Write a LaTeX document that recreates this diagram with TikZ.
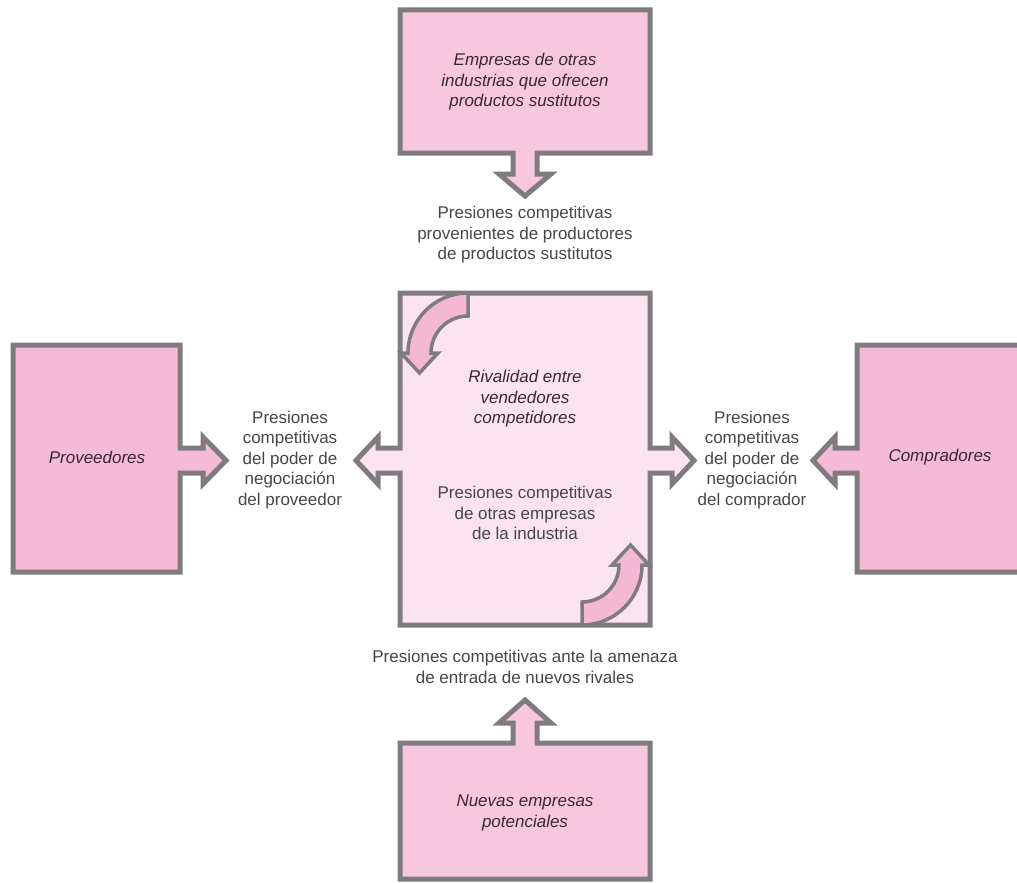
\documentclass[tikz,border=0pt]{standalone}
\usepackage{fontspec}
\setmainfont{Liberation Sans}
\definecolor{edgegray}{HTML}{7F7B7E}
\definecolor{boxpink}{HTML}{F5BAD6}
\definecolor{toppink}{HTML}{F7C8DD}
\definecolor{lightpink}{HTML}{FBE4EF}
\definecolor{curvepink}{HTML}{F4B8D3}
\definecolor{txtgray}{HTML}{464646}
\definecolor{txtdark}{HTML}{3A2833}
\begin{document}
\begin{tikzpicture}[x=1pt,y=-1pt,
  outline/.style={draw=edgegray, line width=5pt, line join=miter},
  curveline/.style={draw=edgegray, line width=3.5pt, line join=miter, fill=curvepink},
  plaintxt/.style={align=center, text=txtgray, font=\fontsize{17}{20.5}\selectfont, inner sep=0pt},
  itxt/.style={align=center, text=txtdark, font=\fontsize{17}{20.5}\selectfont\itshape, inner sep=0pt}]
\path[use as bounding box] (0,0) rectangle (1017,883);
\clip (0,0) rectangle (1017,883);

% top box with downward arrow
\path[outline, fill=toppink] (400,10) -- (650,10) -- (650,153) -- (537,153) -- (537,174) -- (551,174)
  -- (525,196) -- (499,174) -- (513,174) -- (513,153) -- (400,153) -- cycle;

% central box with side arrows
\path[outline, fill=lightpink] (400,293) -- (650,293) -- (650,448) -- (672,448) -- (672,437)
  -- (694,460.5) -- (672,484) -- (672,473) -- (650,473) -- (650,625) -- (400,625) -- (400,473)
  -- (378,473) -- (378,484) -- (356,460.5) -- (378,437) -- (378,448) -- (400,448) -- cycle;

% left box
\path[outline, fill=boxpink] (13,345) -- (180,345) -- (180,448) -- (203,448) -- (203,437)
  -- (226,460.5) -- (203,484) -- (203,473) -- (180,473) -- (180,572) -- (13,572) -- cycle;

% right box
\path[outline, fill=boxpink] (1030,345) -- (857,345) -- (857,448) -- (835,448) -- (835,437)
  -- (813,460.5) -- (835,484) -- (835,473) -- (857,473) -- (857,572) -- (1030,572) -- cycle;

% bottom box with upward arrow
\path[outline, fill=toppink] (400,743) -- (513,743) -- (513,723) -- (499,723) -- (525,700)
  -- (551,723) -- (537,723) -- (537,743) -- (650,743) -- (650,879) -- (400,879) -- cycle;

% curved arrows inside central box
\path[curveline] (582,625) .. controls (615.1,625) and (642,598.1) .. (642,565) -- (649,565)
  -- (630.5,545) -- (612,565) -- (619,565) .. controls (619,585.4) and (602.4,602) .. (582,602) -- cycle;
\path[curveline] (468,293) .. controls (434.9,293) and (408,319.9) .. (408,353) -- (401,353)
  -- (419.5,373) -- (438,353) -- (431,353) .. controls (431,332.6) and (447.6,316) .. (468,316) -- cycle;

% texts
\node[itxt] (sust) at (525,82) {Empresas de otras\\industrias que ofrecen\\productos sustitutos};
\node[plaintxt] (psust) at (525,235) {Presiones competitivas\\provenientes de productores\\de productos sustitutos};
\node[itxt] (rival) at (525,399) {Rivalidad entre\\vendedores\\competidores};
\node[plaintxt] (prival) at (525,513) {Presiones competitivas\\de otras empresas\\de la industria};
\node[plaintxt] (pprov) at (290,460) {Presiones\\competitivas\\del poder de\\negociación\\del proveedor};
\node[plaintxt] (pcomp) at (752,460) {Presiones\\competitivas\\del poder de\\negociación\\del comprador};
\node[itxt] (prov) at (97,457) {Proveedores};
\node[itxt] (comp) at (940,457) {Compradores};
\node[plaintxt] (pnuev) at (525,667) {Presiones competitivas ante la amenaza\\de entrada de nuevos rivales};
\node[itxt] (nuev) at (525,813) {Nuevas empresas\\potenciales};
\end{tikzpicture}
\end{document}
